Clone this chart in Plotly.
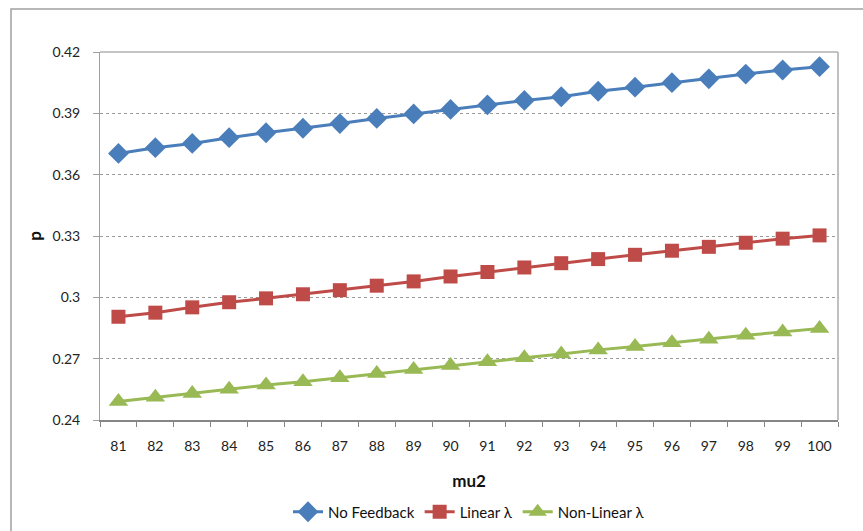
import plotly.graph_objects as go

# mu2 values on the horizontal axis
mu2 = [str(v) for v in range(81, 101)]

# probability p for each feedback scheme
no_feedback = [0.3704, 0.3732, 0.3753, 0.3781, 0.3805, 0.3827, 0.3850, 0.3875,
               0.3897, 0.3919, 0.3941, 0.3963, 0.3981, 0.4008, 0.4028, 0.4050,
               0.4069, 0.4092, 0.4112, 0.4128]
linear = [0.2905, 0.2925, 0.2951, 0.2976, 0.2995, 0.3015, 0.3035, 0.3057,
          0.3078, 0.3102, 0.3124, 0.3146, 0.3167, 0.3187, 0.3208, 0.3228,
          0.3247, 0.3267, 0.3287, 0.3303]
non_linear = [0.2490, 0.2511, 0.2530, 0.2550, 0.2571, 0.2587, 0.2607, 0.2627,
              0.2647, 0.2666, 0.2685, 0.2704, 0.2723, 0.2743, 0.2759, 0.2778,
              0.2795, 0.2814, 0.2831, 0.2847]

y_ticks = [0.24, 0.27, 0.30, 0.33, 0.36, 0.39, 0.42]
y_tick_text = ["0.24", "0.27", "0.3", "0.33", "0.36", "0.39", "0.42"]

series = [
    ("No Feedback", no_feedback, "#4A7EBB", "diamond", 16),
    ("Linear λ", linear, "#BE4B48", "square", 14),
    ("Non-Linear λ", non_linear, "#98B954", "triangle-up", 17),
]

fig = go.Figure()
for name, vals, color, symbol, size in series:
    fig.add_trace(go.Scatter(
        x=mu2, y=vals, name=name, mode="lines+markers",
        line=dict(color=color, width=3),
        marker=dict(symbol=symbol, size=size, color=color,
                    line=dict(width=0)),
    ))

font = "Lato, 'Open Sans', sans-serif"
L, R, T, B = 100, 25, 52, 111
W, H = 863, 531
pw, ph = W - L - R, H - T - B

fig.update_layout(
    width=W, height=H,
    margin=dict(l=L, r=R, t=T, b=B, autoexpand=False),
    paper_bgcolor="white", plot_bgcolor="white",
    font=dict(family=font, size=14, color="#222"),
    showlegend=True,
    legend=dict(orientation="h", x=0.5, xref="paper", xanchor="center",
                yref="container", y=1 - 512 / H, yanchor="middle",
                font=dict(family=font, size=15, color="#111"),
                itemwidth=30, tracegroupgap=0),
    xaxis=dict(
        type="category", range=[-0.5, len(mu2) - 0.5],
        tickson="boundaries", ticks="outside",
        ticklen=5, tickcolor="#868686", showline=True, linecolor="#868686",
        linewidth=2, showgrid=False, mirror=False, ticklabelstandoff=12,
        tickfont=dict(family=font, size=14, color="#222"),
        title=dict(text="<b>mu2</b>", standoff=22,
                   font=dict(family=font, size=17, color="#111")),
    ),
    yaxis=dict(
        range=[0.24, 0.42], tickvals=y_ticks, ticktext=y_tick_text,
        ticks="outside", ticklen=6, tickcolor="#A0A0A0",
        showline=True, linecolor="#A0A0A0", linewidth=1,
        showgrid=True, gridcolor="#9A9A9A", griddash="dot", gridwidth=1,
        zeroline=False, ticklabelstandoff=10,
        tickfont=dict(family=font, size=14, color="#222"),
        title=dict(text="<b>p</b>", standoff=6,
                   font=dict(family=font, size=17, color="#111")),
    ),
)

# plot-area frame on top and right
fig.add_shape(type="line", xref="paper", yref="paper", x0=0, x1=1, y0=1, y1=1,
              line=dict(color="#B0B0B0", width=1.5))
fig.add_shape(type="line", xref="paper", yref="paper", x0=1, x1=1, y0=0, y1=1,
              line=dict(color="#C0C0C0", width=2))

# outer chart border
fig.add_shape(type="rect", xref="paper", yref="paper",
              x0=(11 - L) / pw, x1=(W + 10 - L) / pw,
              y0=-(H + 10 - T - ph) / ph, y1=1 + (T - 9) / ph,
              line=dict(color="#A0A0A0", width=1.5), layer="below")

fig.write_html("out.html")
